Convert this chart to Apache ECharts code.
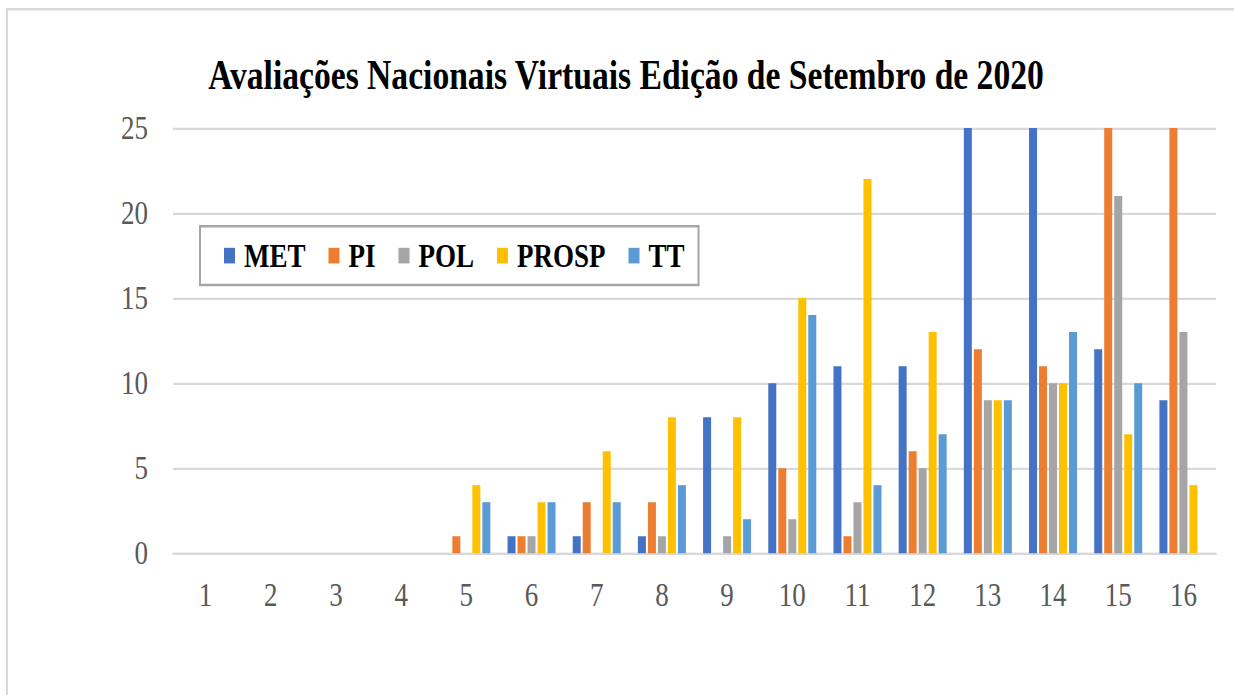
<!DOCTYPE html>
<html><head><meta charset="utf-8">
<script src="https://cdn.jsdelivr.net/npm/echarts/dist/echarts.min.js"></script>
<style>
html,body{margin:0;padding:0;background:#fff;overflow:hidden;width:1234px;height:695px;}
#wrap{width:1234px;height:556px;transform:scaleY(1.25);transform-origin:0 0;}
</style></head><body><div id="wrap"></div>
<script>
// Data (values above 25 are cut off at the top of the plot)
const categories = ['1','2','3','4','5','6','7','8','9','10','11','12','13','14','15','16'];
const seriesNames = ['MET','PI','POL','PROSP','TT'];
const MET   = [0,0,0,0,0,1,1,1,8,10,11,11,30,30,12,9];
const PI    = [0,0,0,0,1,1,3,3,0,5,1,6,12,11,30,30];
const POL   = [0,0,0,0,0,1,0,1,1,2,3,5,9,10,21,13];
const PROSP = [0,0,0,0,4,3,6,8,8,15,22,13,9,10,7,4];
const TT    = [0,0,0,0,3,3,3,4,2,14,4,7,9,13,10,0];
const yTicks = [0,5,10,15,20,25];
const titleText = 'Avaliações Nacionais Virtuais Edição de Setembro de 2020';

const colors = ['#4472C4','#ED7D31','#A5A5A5','#FFC000','#5B9BD5'];
const values = [MET, PI, POL, PROSP, TT];
const serif = "'Liberation Serif','Times New Roman',serif";

const chart = echarts.init(document.getElementById('wrap'), null, {renderer:'svg'});
chart.setOption({
  animation: false,
  backgroundColor: '#fff',
  graphic: [{
    type: 'rect', silent: true,
    shape: {x: 7, y: 7.4, width: 1400, height: 800},
    style: {fill: 'none', stroke: '#d9d9d9', lineWidth: 2}
  }],
  title: {
    text: titleText,
    left: 621, top: 38, textAlign: 'center',
    textStyle: {fontFamily: serif, fontWeight: 'bold', fontSize: 33.6, color: '#000'}
  },
  legend: {
    data: seriesNames,
    left: 200, top: 181,
    padding: [10, 14, 10, 24],
    borderColor: '#a6a6a6', borderWidth: 2,
    itemWidth: 11, itemHeight: 12.5, itemGap: 23,
    icon: 'rect',
    textStyle: {fontFamily: serif, fontWeight: 'bold', fontSize: 27, color: '#000', padding: [0,0,0,4]}
  },
  grid: {left: 173, right: 18, top: 102.4, bottom: 113.4, containLabel: false},
  xAxis: {
    type: 'category', data: categories,
    axisLine: {show: true, lineStyle: {color: '#d9d9d9', width: 1.8}},
    axisTick: {show: false},
    axisLabel: {fontFamily: serif, fontSize: 27, color: '#595959', margin: 20},
    splitLine: {show: false}
  },
  yAxis: {
    type: 'value', min: yTicks[0], max: yTicks[yTicks.length-1], interval: yTicks[1]-yTicks[0],
    axisLine: {show: false}, axisTick: {show: false},
    axisLabel: {fontFamily: serif, fontSize: 27, color: '#595959', margin: 25},
    splitLine: {lineStyle: {color: '#d9d9d9', width: 1.8}}
  },
  series: seriesNames.map((n, i) => ({
    name: n, type: 'bar', data: values[i],
    barWidth: 8, barGap: '25%', clip: true,
    itemStyle: {color: colors[i]},
    emphasis: {disabled: true}
  }))
});
</script></body></html>
